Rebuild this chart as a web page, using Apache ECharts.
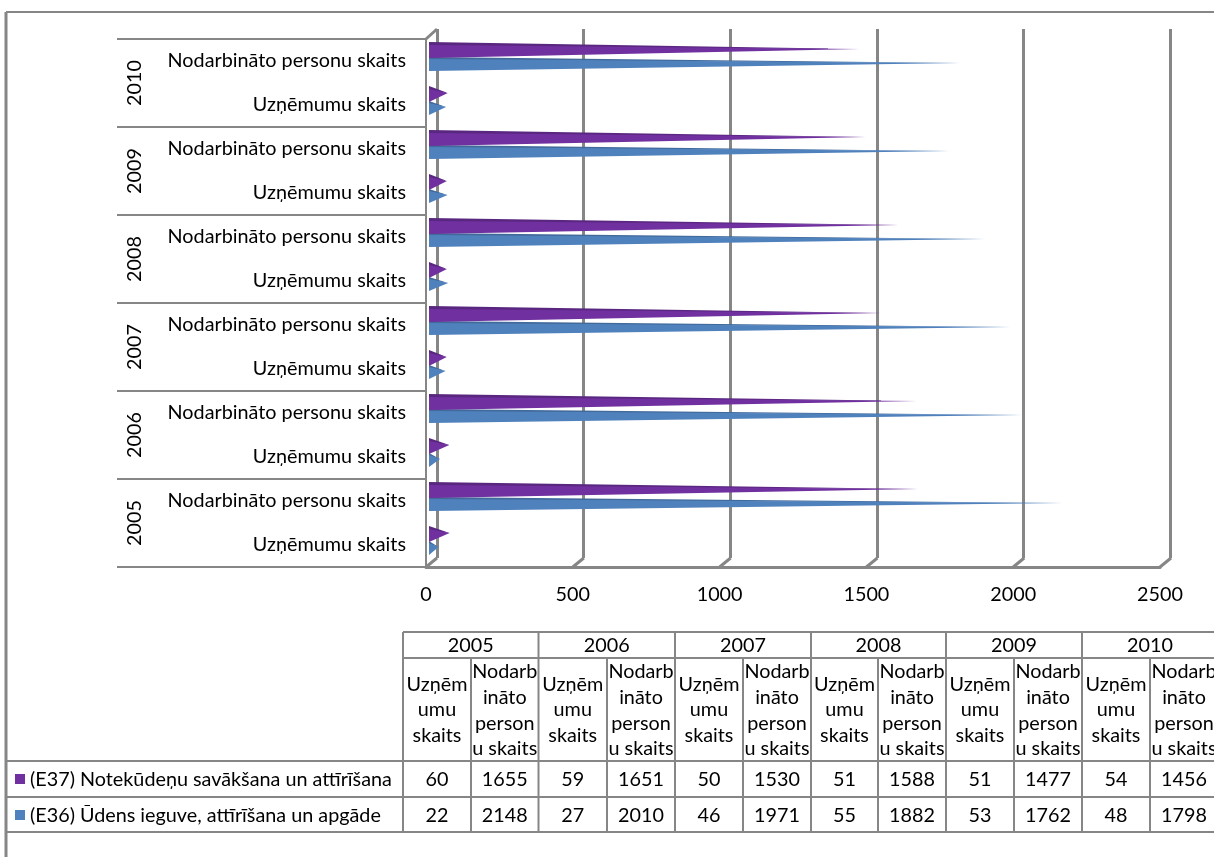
<!DOCTYPE html>
<html><head><meta charset="utf-8">
<style>html,body{margin:0;padding:0;background:#fff;overflow:hidden}#c{width:1214px;height:857px}</style>
<script src="https://cdn.jsdelivr.net/npm/echarts@6/dist/echarts.min.js"></script>
</head><body><div id="c"></div>
<script>
const years = ['2005','2006','2007','2008','2009','2010'];
const measures = ['Uzņēmumu skaits','Nodarbināto personu skaits'];
const seriesE37Name = '(E37) Notekūdeņu savākšana un attīrīšana';
const seriesE36Name = '(E36) Ūdens ieguve, attīrīšana un apgāde';
const e37 = [60,1655,59,1651,50,1530,51,1588,51,1477,54,1456];
const e36 = [22,2148,27,2010,46,1971,55,1882,53,1762,48,1798];
const xTicks = [0,500,1000,1500,2000,2500];
const cellUzn = ['Uzņēm','umu','skaits'];
const cellNod = ['Nodarb','ināto','person','u skaits'];

const FONT = 'Lato, Carlito, sans-serif';
const FS = 19.8;
const LINE = '#868686';
const PURPLE = '#7030A0', PURPLE_D = '#5A2780', BLUE = '#4F81BD', BLUE_D = '#41699A';

const cats = [];
years.forEach(y => measures.forEach(m => cats.push(y + ' ' + m)));
const catLabels = [];
years.forEach(() => measures.forEach(m => catLabels.push(m)));

function triangle(front, dark, topA, topB, frontA, frontB, tipDy) {
  return function (params, api) {
    const p = api.coord([api.value(0), api.value(1)]);
    const p0 = api.coord([0, api.value(1)]);
    const x0 = p0[0] + 3, y = p[1], tip = p[0] + 6;
    return { type: 'group', children: [
      { type: 'polygon', shape: { points: [[x0, y + topA], [x0, y + topB], [tip, y + tipDy]] }, style: { fill: dark } },
      { type: 'polygon', shape: { points: [[x0, y + frontA], [x0, y + frontB], [tip, y + tipDy]] }, style: { fill: front } }
    ]};
  };
}

const gridEls = [];
function tline(x1, y1, x2, y2, w) {
  gridEls.push({ type: 'line', silent: true, shape: { x1, y1, x2, y2 }, style: { stroke: LINE, lineWidth: w || 2 } });
}
function ttext(x, y, s, align) {
  gridEls.push({ type: 'text', silent: true, x, y: y + 1, style: { text: s, fill: '#000', font: FS + 'px ' + FONT, textAlign: align || 'center', textVerticalAlign: 'middle' } });
}
// frame
tline(6, 12, 1214, 12, 2);
tline(6, 12, 6, 857, 3);
// data table
const colX = [403,471,538.5,607,675,743,811,878,946,1014,1082,1150,1218];
const rowY = [632,658,761,797,832];
tline(403, rowY[0], 1214, rowY[0]);
tline(403, rowY[1], 1214, rowY[1]);
tline(6, rowY[2], 1214, rowY[2]);
tline(6, rowY[3], 1214, rowY[3]);
tline(6, rowY[4], 1214, rowY[4]);
colX.forEach((x, i) => {
  if (x > 1214) return;
  tline(x, i % 2 === 0 ? rowY[0] : rowY[1], x, rowY[4]);
});
years.forEach((y, i) => ttext((colX[2*i] + colX[2*i+2]) / 2, 645, y));
for (let i = 0; i < 12; i++) {
  const cx = (colX[i] + colX[i+1]) / 2;
  const lines = i % 2 === 0 ? cellUzn : cellNod;
  const ys = i % 2 === 0 ? [684, 709, 735] : [671, 697, 723, 748];
  lines.forEach((l, k) => ttext(cx, ys[k], l));
  ttext(cx, 779, String(e37[i]));
  ttext(cx, 815, String(e36[i]));
}
gridEls.push({ type: 'rect', silent: true, shape: { x: 15, y: 774, width: 10, height: 10 }, style: { fill: PURPLE } });
gridEls.push({ type: 'rect', silent: true, shape: { x: 15, y: 810, width: 10, height: 10 }, style: { fill: BLUE } });
ttext(30, 779, seriesE37Name, 'left');
ttext(30, 815, seriesE36Name, 'left');

const chart = echarts.init(document.getElementById('c'), null, { renderer: 'canvas' });
chart.setOption({
  animation: false,
  backgroundColor: '#fff',
  textStyle: { fontFamily: FONT },
  grid: [
    { left: 426, top: 39, width: 734, height: 528 },
    { left: 437, top: 29, width: 733, height: 529 }
  ],
  xAxis: [
    { gridIndex: 0, type: 'value', min: 0, max: 2500, interval: 500,
      axisLine: { show: true, onZero: false, lineStyle: { color: LINE, width: 3 } }, axisTick: { show: false },
      splitLine: { show: false },
      axisLabel: { color: '#000', fontSize: FS, fontFamily: FONT, margin: 18, formatter: v => String(v) } },
    { gridIndex: 1, type: 'value', min: 0, max: 2500, interval: 500,
      axisLine: { show: false }, axisTick: { show: false }, axisLabel: { show: false },
      splitLine: { show: true, lineStyle: { color: LINE, width: 3 } } }
  ],
  yAxis: [
    { gridIndex: 0, type: 'category', data: cats, position: 'left',
      axisLine: { show: true, onZero: false, lineStyle: { color: LINE, width: 2 } }, axisTick: { show: false },
      axisLabel: { color: '#000', fontSize: FS, fontFamily: FONT, margin: 20, interval: 0, padding: [3, 0, 0, 0],
        formatter: (v, i) => catLabels[i] } },
    { gridIndex: 0, type: 'category', data: years, position: 'left',
      axisLine: { show: false },
      axisTick: { show: true, length: 309, lineStyle: { color: LINE, width: 2 } },
      axisLabel: { color: '#000', fontSize: FS, fontFamily: FONT, rotate: 90, margin: 281, interval: 0 } },
    { gridIndex: 1, type: 'value', show: false, min: 0, max: 1 }
  ],
  graphic: { elements: gridEls },
  series: [
    { type: 'custom', name: 'wall', xAxisIndex: 0, yAxisIndex: 0, silent: true, z: 1,
      data: xTicks.map(v => [v, 0]),
      renderItem: (params, api) => {
        const b = params.coordSys.y + params.coordSys.height;
        const x = api.coord([api.value(0), 0])[0];
        return { type: 'line', shape: { x1: x, y1: b, x2: x + 11, y2: b - 9 }, style: { stroke: LINE, lineWidth: 3 } };
      } },
    { type: 'custom', name: 'wallTop', xAxisIndex: 0, yAxisIndex: 0, silent: true, z: 1,
      data: [[0, 0]],
      renderItem: (params, api) => {
        const t = params.coordSys.y;
        const x = api.coord([api.value(0), 0])[0];
        return { type: 'line', shape: { x1: x, y1: t, x2: x + 11, y2: t - 10 }, style: { stroke: LINE, lineWidth: 3 } };
      } },
    { type: 'custom', name: seriesE36Name, xAxisIndex: 0, yAxisIndex: 0, z: 3,
      data: e36.map((v, i) => [v, i]),
      renderItem: triangle(BLUE, BLUE_D, -4, -1, -2, 10, 2) },
    { type: 'custom', name: seriesE37Name, xAxisIndex: 0, yAxisIndex: 0, z: 4,
      data: e37.map((v, i) => [v, i]),
      renderItem: triangle(PURPLE, PURPLE_D, -19, -14, -16, -3, -12) }
  ]
});
</script></body></html>
